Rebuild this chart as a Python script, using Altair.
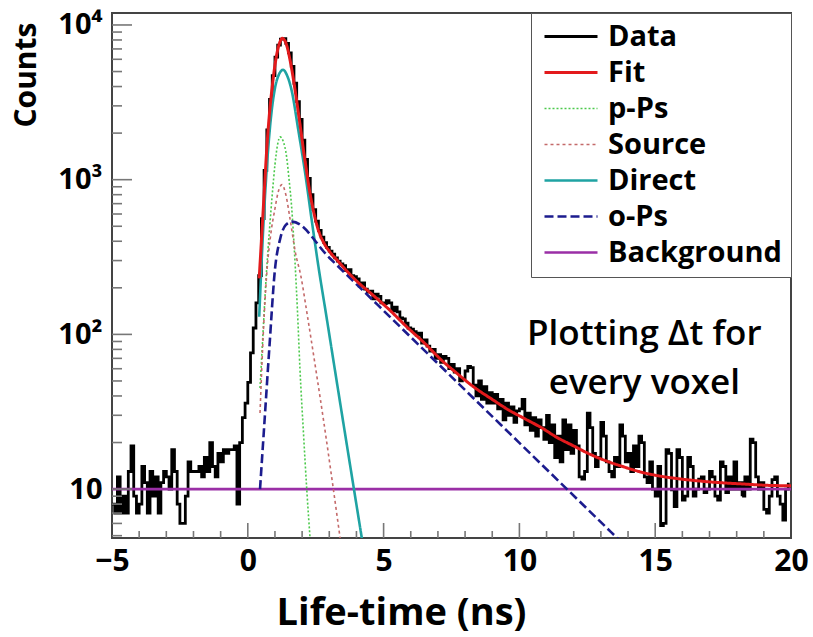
import altair as alt
import pandas as pd

# ---------------- data ----------------
series_names = ["Data", "Fit", "p-Ps", "Source", "Direct", "o-Ps", "Background"]
series_colors = ["#000000", "#e31a1c", "#4cc94c", "#c46a6a", "#1fa3a3", "#1c1c8e", "#9a2fa6"]
series_dash = [[1, 0], [1, 0], [2, 2], [3, 3], [1, 0], [9, 4], [1, 0]]
series_width = [2.8, 3.0, 1.6, 1.6, 2.6, 2.6, 2.6]

# histogram (bin width 0.1 ns, first bin starts at -5 ns)
data_start = -5.0
data_bin = 0.1
data_counts = [
    8, 7, 12, 7, 9, 7, 13, 19, 9, 7,
    8, 14, 11, 7, 13, 9, 12, 7, 11, 13,
    12, 10, 18, 13, 8, 6, 6, 9, 15, 13,
    13, 13, 14, 12, 16, 13, 20, 14, 12, 17,
    15, 18, 17, 18, 18, 19, 8, 20, 29, 36,
    49, 76, 110, 160, 240, 560, 1150, 2100, 3300, 4700,
    6200, 7400, 8100, 8150, 7600, 6600, 5400, 4200, 3200, 2450,
    1800, 1350, 1020, 800, 640, 540, 470, 425, 392, 365,
    345, 330, 312, 298, 285, 278, 258, 262, 240, 236,
    228, 205, 215, 196, 188, 190, 170, 182, 176, 160,
    158, 165, 160, 142, 150, 140, 128, 126, 118, 110,
    108, 104, 99, 102, 88, 92, 84, 78, 80, 70,
    74, 66, 72, 70, 60, 64, 57, 60, 50, 52,
    58, 62, 61, 47, 40, 50, 38, 46, 36, 42,
    36, 41, 33, 38, 28, 36, 30, 34, 27, 32,
    33, 38, 26, 31, 24, 29, 22, 28, 25, 21,
    30, 20, 26, 16, 22, 15, 28, 18, 26, 17,
    24, 19, 12, 11.6, 13, 31, 25, 17, 14, 16,
    27, 22, 15, 13, 12, 16, 14, 26, 22, 15,
    17, 13, 19, 14, 22, 20, 12, 11, 15, 10,
    9, 14, 5.8, 6, 18, 17, 9.9, 7.7, 18, 16,
    8.5, 9, 16, 14, 9, 10, 11.6, 12, 9.5, 10,
    13, 12, 9, 8.5, 15, 14, 9.5, 12, 10, 15,
    10, 11, 9, 12, 10, 21, 20, 12, 10, 11,
    7.4, 7, 9, 11.5, 12, 9, 8, 6.3, 10, 11,
]

fit_t = [0.42, 0.5, 0.6, 0.7, 0.8, 0.9, 1.0, 1.1, 1.2, 1.27, 1.35, 1.45, 1.55, 1.65,
         1.75, 1.85, 1.95, 2.05, 2.15, 2.25, 2.4, 2.6, 2.8, 3.0, 3.3, 3.6, 4.0, 4.6,
         5.2, 5.85, 6.5, 7.1, 7.7, 8.3, 9.0, 9.6, 10.2, 10.8, 11.4, 12.0, 12.6, 13.2,
         13.8, 14.4, 15.0, 15.8, 16.6, 17.4, 18.2, 19.0, 20.0]
fit_v = [230, 400, 800, 1600, 2700, 4000, 5500, 6900, 7900, 8200, 8000, 7200, 6000, 4800,
         3700, 2800, 2100, 1550, 1180, 900, 650, 470, 390, 345, 300, 262, 222, 180,
         145, 112, 88, 69, 56, 46, 38, 32.5, 28.5, 25, 21.5, 19, 16.8, 15.2,
         14, 13, 12.3, 11.7, 11.3, 11.0, 10.8, 10.6, 10.5]

pps_t = [0.45, 0.55, 0.68, 0.8, 0.9, 1.0, 1.1, 1.19, 1.3, 1.43, 1.52, 1.61, 1.74, 1.83,
         1.92, 2.05, 2.17, 2.3]
pps_v = [45, 95, 240, 480, 800, 1250, 1700, 1890, 1780, 1400, 1000, 680, 290, 140,
         60, 23, 10, 4.6]

src_t = [0.45, 0.58, 0.7, 0.85, 1.0, 1.11, 1.26, 1.4, 1.56, 1.75, 1.95, 2.2, 2.5, 2.8,
         3.15, 3.4]
src_v = [31, 110, 250, 450, 650, 820, 929, 800, 552, 340, 240, 130, 60, 27, 10, 4.8]

dir_t = [0.42, 0.55, 0.7, 0.85, 1.0, 1.15, 1.3, 1.45, 1.61, 1.86, 2.11, 2.35, 2.6, 2.9,
         3.2, 3.5, 3.87, 4.2]
dir_v = [130, 420, 1200, 2500, 3900, 4800, 5130, 4700, 3800, 2090, 1110, 552, 275, 129,
         60, 28, 11, 4.8]

ops_t = [0.45, 0.6, 0.8, 1.0, 1.2, 1.4, 1.63, 3.0, 6.0, 10.0, 13.9]
ops_v = [10, 25, 85, 263, 420, 510, 536, 313, 96, 19.9, 4.29]

bg_t = [-5.0, 20.0]
bg_v = [10, 10]

y_major_ticks = [10, 100, 1000, 10000]
y_minor_ticks = [5, 6, 7, 8, 9, 20, 30, 40, 50, 60, 70, 80, 90,
                 200, 300, 400, 500, 600, 700, 800, 900,
                 2000, 3000, 4000, 5000, 6000, 7000, 8000, 9000]
x_labels = [-5, 0, 5, 10, 15, 20]
x_major_ticks = [0, 5, 10, 15]
x_minor_ticks = [-4, -3, -2, -1, 1, 2, 3, 4, 6, 7, 8, 9, 11, 12, 13, 14,
                 16, 17, 18, 19]

ann_text = ["Plotting \u0394t for", "every voxel"]
ann_t = [14.6, 14.6]
ann_v = [85, 41]

# ---------------- tables ----------------
df_data = pd.DataFrame({
    "t": [round(data_start + i * data_bin, 2) for i in range(len(data_counts))],
    "v": data_counts, "series": "Data"})


def curve(ts, vs, name):
    return pd.DataFrame({"t": ts, "v": vs, "series": name})


df_fit = curve(fit_t, fit_v, "Fit")
df_pps = curve(pps_t, pps_v, "p-Ps")
df_src = curve(src_t, src_v, "Source")
df_dir = curve(dir_t, dir_v, "Direct")
df_ops = curve(ops_t, ops_v, "o-Ps")
df_bg = curve(bg_t, bg_v, "Background")

W, H = 679, 525
FONT = "Open Sans"
XT = "Life-time (ns)"
YT = "Counts"

x_scale = alt.Scale(domain=[-5, 20], nice=False, zero=False)
y_scale = alt.Scale(type="log", domain=[4.83, 11950], nice=False)

x_main = alt.X("t:Q", scale=x_scale, title=XT, axis=alt.Axis(
    values=x_labels, ticks=False, domain=False, grid=False,
    labelFont=FONT, labelFontSize=30, labelFontWeight="bold", labelColor="black",
    labelPadding=8, labelFlush=False, labelOverlap=False,
    titleFont=FONT, titleFontSize=38, titleFontWeight="bold", titleColor="black",
    titleX=289, titleY=86, titleAlign="center", titleBaseline="alphabetic"))
y_main = alt.Y("v:Q", scale=y_scale, title=YT, axis=alt.Axis(
    values=y_major_ticks, ticks=False, domain=False, grid=False,
    labelExpr="datum.value == 10 ? '10' : datum.value == 100 ? '10\u00b2' : datum.value == 1000 ? '10\u00b3' : '10\u2074'",
    labelFont=FONT, labelFontSize=29, labelFontWeight="bold", labelColor="black",
    labelPadding=10, labelOverlap=False,
    titleFont=FONT, titleFontSize=30, titleFontWeight="bold", titleColor="black",
    titleAngle=270, titleX=-77, titleY=9, titleAlign="right",
    titleBaseline="alphabetic"))

x_sub = alt.X("t:Q", scale=x_scale, title=XT)
y_sub = alt.Y("v:Q", scale=y_scale, title=YT)

leg = alt.Legend(
    orient="top-right", offset=0, title=None,
    symbolType="M-1,0H4.3", symbolSize=400,
    labelFont=FONT, labelFontSize=29, labelFontWeight="bold", labelColor="black",
    labelOffset=39, labelLimit=0, padding=9, rowPadding=6,
    strokeColor="#555555", fillColor="white")

color = alt.Color("series:N", scale=alt.Scale(domain=series_names, range=series_colors),
                  legend=leg, title=None)
dash = alt.StrokeDash("series:N", scale=alt.Scale(domain=series_names, range=series_dash),
                      legend=leg, title=None)
swidth = alt.StrokeWidth("series:N",
                         scale=alt.Scale(type="ordinal", domain=series_names, range=series_width),
                         legend=leg, title=None)

data_layer = alt.Chart(df_data).mark_line(interpolate="step-after", clip=True).encode(
    x=x_main, y=y_main, color=color, strokeDash=dash, strokeWidth=swidth)


def comp(df):
    return alt.Chart(df).mark_line(interpolate="monotone", clip=True).encode(
        x=x_sub, y=y_sub, color=color, strokeDash=dash, strokeWidth=swidth)


ytick_major = alt.Chart(pd.DataFrame({"v": y_major_ticks})).mark_rule(
    color="#777777", strokeWidth=1.6).encode(y=y_sub, x=alt.value(0), x2=alt.value(20))
ytick_minor = alt.Chart(pd.DataFrame({"v": y_minor_ticks})).mark_rule(
    color="#777777", strokeWidth=1.6).encode(y=y_sub, x=alt.value(0), x2=alt.value(10))
xtick_major = alt.Chart(pd.DataFrame({"t": x_major_ticks})).mark_rule(
    color="#777777", strokeWidth=1.6).encode(x=x_sub, y=alt.value(H), y2=alt.value(H - 15))
xtick_minor = alt.Chart(pd.DataFrame({"t": x_minor_ticks})).mark_rule(
    color="#777777", strokeWidth=1.6).encode(x=x_sub, y=alt.value(H), y2=alt.value(H - 7))

ann = alt.Chart(pd.DataFrame({"t": ann_t, "v": ann_v, "txt": ann_text})).mark_text(
    font=FONT, fontSize=35, fontWeight=600, color="black", align="center",
    baseline="alphabetic").encode(x=x_sub, y=y_sub, text="txt:N")

chart = alt.layer(
    data_layer, comp(df_bg), comp(df_pps), comp(df_src), comp(df_dir), comp(df_ops),
    comp(df_fit), ytick_major, ytick_minor, xtick_major, xtick_minor, ann
).properties(
    width=W, height=H, autosize="none",
    padding={"left": 112, "top": 13, "right": 22, "bottom": 99},
    background="white"
).configure_view(stroke="#444444", strokeWidth=2)

chart.save("out.html", embed_options={"renderer": "svg", "actions": False})
